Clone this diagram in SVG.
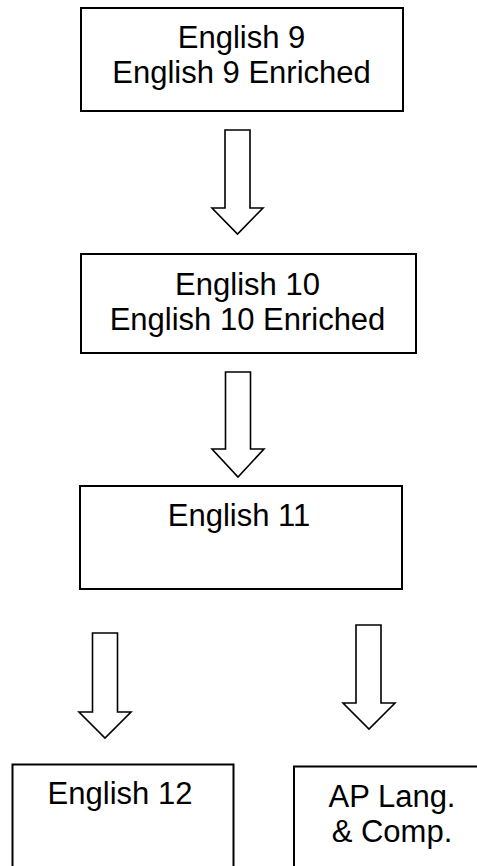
<svg xmlns="http://www.w3.org/2000/svg" width="477" height="866" viewBox="0 0 477 866">
<style>
.box{fill:#fff;stroke:#000;stroke-width:2}
.arr{fill:#fff;stroke:#000;stroke-width:1.6;stroke-linejoin:miter}
.t{font-family:"Liberation Sans",Arial,sans-serif;font-size:31px;fill:#000;text-anchor:middle}
</style>
<rect width="477" height="866" fill="#fff"/>
<g id="connectors">
<polygon class="arr" points="225,130 250,130 250,208 263,208 237.5,234 212,208 225,208"/>
<polygon class="arr" points="225.5,372 250.5,372 250.5,449 264,449 238,477 212,449 225.5,449"/>
<polygon class="arr" points="92.5,633 117.5,633 117.5,712 131,712 105,738 79,712 92.5,712"/>
<polygon class="arr" points="356,625 381,625 381,703 395,703 369,729 343,703 356,703"/>
</g>
<g id="n1">
<rect class="box" x="81" y="8" width="322" height="103"/>
<text class="t" x="241.5" y="48">English 9</text>
<text class="t" x="241.5" y="83">English 9 Enriched</text>
</g>
<g id="n2">
<rect class="box" x="81" y="254" width="335" height="99"/>
<text class="t" x="247.5" y="295">English 10</text>
<text class="t" x="247.5" y="330">English 10 Enriched</text>
</g>
<g id="n3">
<rect class="box" x="80" y="486" width="322" height="103"/>
<text class="t" x="239" y="526">English 11</text>
</g>
<g id="n4">
<rect class="box" x="12.5" y="764.5" width="221" height="120"/>
<text class="t" x="120" y="804">English 12</text>
</g>
<g id="n5">
<rect class="box" x="294" y="766.5" width="196" height="120"/>
<text class="t" x="392" y="807">AP Lang.</text>
<text class="t" x="392" y="842">&amp; Comp.</text>
</g>
</svg>
